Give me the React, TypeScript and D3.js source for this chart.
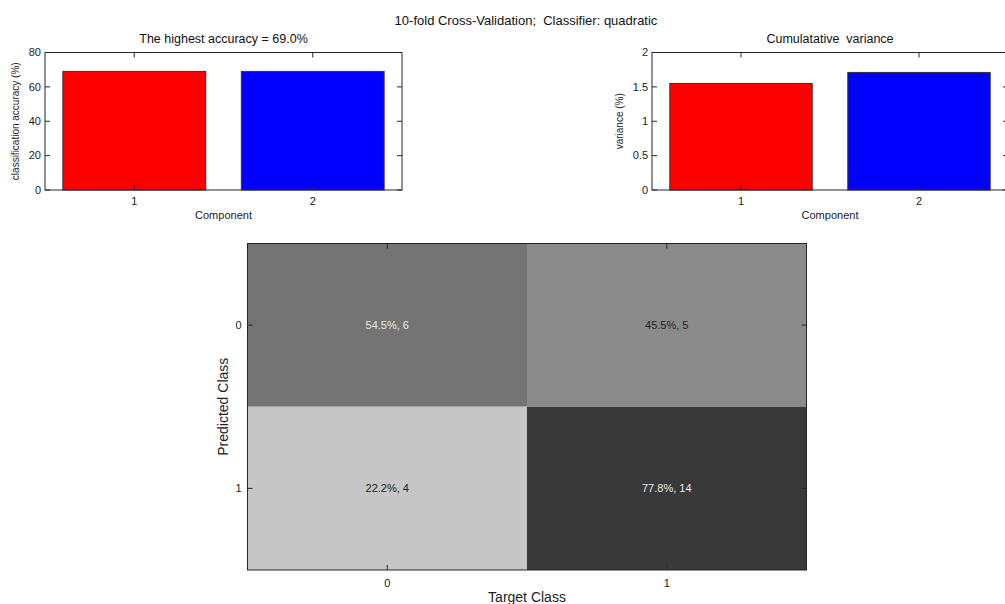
import React from "react";
import * as d3 from "d3";

const components = [1, 2];
const accuracy = [69.0, 69.0];
const variance = [1.55, 1.71];
const barColors = ["#ff0000", "#0000ff"];
const accTicks = [0, 20, 40, 60, 80];
const varTicks = [0, 0.5, 1, 1.5, 2];
const classes = ["0", "1"];
// rows = predicted class, cols = target class
const cmPercent = [
  [54.5, 45.5],
  [22.2, 77.8],
];
const cmCounts = [
  [6, 5],
  [4, 14],
];

const W = 1005;
const H = 604;
const FONT = "Arial, 'Liberation Sans', Helvetica, sans-serif";
const AX = "#262626";
const PRE = { whiteSpace: "pre" as const };

type BarProps = {
  x0: number;
  x1: number;
  y0: number;
  y1: number;
  values: number[];
  yMax: number;
  ticks: number[];
  title: string;
  ylabel: string;
  ylabelX: number;
};

function BarPanel({ x0, x1, y0, y1, values, yMax, ticks, title, ylabel, ylabelX }: BarProps) {
  const x = d3.scaleLinear().domain([0.5, 2.5]).range([x0, x1]);
  const y = d3.scaleLinear().domain([0, yMax]).range([y1, y0]);
  const bw = 0.8;
  const tl = 5;
  return (
    <g fontFamily={FONT}>
      {components.map((c, i) => (
        <rect
          key={c}
          x={x(c - bw / 2)}
          y={y(values[i])}
          width={x(c + bw / 2) - x(c - bw / 2)}
          height={y(0) - y(values[i])}
          fill={barColors[i]}
          stroke="#333"
          strokeWidth={1}
        />
      ))}
      <rect x={x0} y={y0} width={x1 - x0} height={y1 - y0} fill="none" stroke={AX} strokeWidth={1} />
      {ticks.map((t) => (
        <g key={t}>
          <line x1={x0} x2={x0 + tl} y1={y(t)} y2={y(t)} stroke={AX} />
          <line x1={x1} x2={x1 - tl} y1={y(t)} y2={y(t)} stroke={AX} />
          <text x={x0 - 4} y={y(t)} dy="0.35em" textAnchor="end" fontSize={11} fill="#222">
            {String(t)}
          </text>
        </g>
      ))}
      {components.map((c) => (
        <g key={c}>
          <line x1={x(c)} x2={x(c)} y1={y1} y2={y1 - tl} stroke={AX} />
          <line x1={x(c)} x2={x(c)} y1={y0} y2={y0 + tl} stroke={AX} />
          <text x={x(c)} y={y1 + 15} textAnchor="middle" fontSize={11} fill="#222">
            {String(c)}
          </text>
        </g>
      ))}
      <text x={(x0 + x1) / 2} y={y1 + 29} textAnchor="middle" fontSize={11} fill="#222">
        Component
      </text>
      <text x={(x0 + x1) / 2} y={43} textAnchor="middle" fontSize={12.5} fill="#111" style={PRE}>
        {title}
      </text>
      <text
        transform={`translate(${ylabelX},${(y0 + y1) / 2}) rotate(-90)`}
        textAnchor="middle"
        fontSize={10}
        fill="#222"
      >
        {ylabel}
      </text>
    </g>
  );
}

function ConfusionMatrix() {
  const left = 247.5;
  const right = 806.5;
  const top = 243.5;
  const bottom = 570;
  const x = d3.scaleBand().domain(classes).range([left, right]);
  const y = d3.scaleBand().domain(classes).range([top, bottom]);
  const gray = d3.scaleLinear<string>().domain([0, 100]).range(["#ffffff", "#000000"]);
  const tl = 5;
  return (
    <g fontFamily={FONT}>
      {classes.map((pr, r) =>
        classes.map((tg, c) => {
          const p = cmPercent[r][c];
          return (
            <g key={pr + tg}>
              <rect x={x(tg)} y={y(pr)} width={x.bandwidth()} height={y.bandwidth()} fill={gray(p)} />
              <text
                x={(x(tg) as number) + x.bandwidth() / 2}
                y={(y(pr) as number) + y.bandwidth() / 2}
                dy="0.35em"
                textAnchor="middle"
                fontSize={11}
                fill={p > 50 ? "#e8e8e8" : "#222"}
              >
                {`${p.toFixed(1)}%, ${cmCounts[r][c]}`}
              </text>
            </g>
          );
        })
      )}
      <rect x={left} y={top} width={right - left} height={bottom - top} fill="none" stroke={AX} strokeWidth={1} />
      {classes.map((k) => {
        const cx = (x(k) as number) + x.bandwidth() / 2;
        const cy = (y(k) as number) + y.bandwidth() / 2;
        return (
          <g key={k}>
            <line x1={cx} x2={cx} y1={bottom} y2={bottom - tl} stroke={AX} />
            <line x1={cx} x2={cx} y1={top} y2={top + tl} stroke={AX} />
            <line x1={left} x2={left + tl} y1={cy} y2={cy} stroke={AX} />
            <line x1={right} x2={right - tl} y1={cy} y2={cy} stroke={AX} />
            <text x={cx} y={bottom + 17} textAnchor="middle" fontSize={11} fill="#222">
              {k}
            </text>
            <text x={left - 6} y={cy} dy="0.35em" textAnchor="end" fontSize={11} fill="#222">
              {k}
            </text>
          </g>
        );
      })}
      <text x={(left + right) / 2} y={602} textAnchor="middle" fontSize={14} fill="#222">
        Target Class
      </text>
      <text
        transform={`translate(228,${(top + bottom) / 2}) rotate(-90)`}
        textAnchor="middle"
        fontSize={14}
        fill="#222"
      >
        Predicted Class
      </text>
    </g>
  );
}

export default function App() {
  return (
    <svg
      width={W}
      height={H}
      viewBox={`0 0 ${W} ${H}`}
      style={{ position: "absolute", left: 0, top: 0, background: "#fff" }}
    >
      <rect x={0} y={0} width={W} height={H} fill="#fff" />
      <text x={526} y={25} textAnchor="middle" fontSize={13} fontFamily={FONT} fill="#111" style={PRE}>
        {"10-fold Cross-Validation;  Classifier: quadratic"}
      </text>
      <BarPanel
        x0={45}
        x1={402}
        y0={52.5}
        y1={190}
        values={accuracy}
        yMax={80}
        ticks={accTicks}
        title="The highest accuracy = 69.0%"
        ylabel="classification accuracy (%)"
        ylabelX={19}
      />
      <BarPanel
        x0={652}
        x1={1008}
        y0={52.5}
        y1={190}
        values={variance}
        yMax={2}
        ticks={varTicks}
        title="Cumulatative  variance"
        ylabel="variance (%)"
        ylabelX={623}
      />
      <ConfusionMatrix />
    </svg>
  );
}
